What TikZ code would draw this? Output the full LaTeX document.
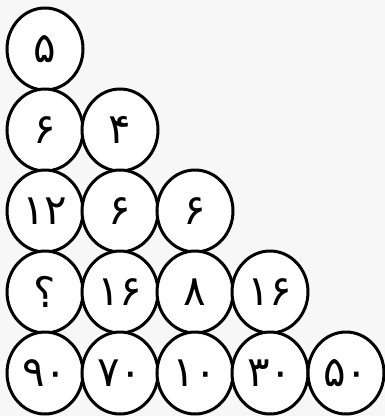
\documentclass[tikz,border=0pt]{standalone}
\usepackage{fontspec}
\usepackage{tikz}
\usepackage{xcolor}
\usetikzlibrary{positioning,shapes.geometric}
\newfontfamily\persianfont[Script=Arabic]{DejaVu Sans}
\definecolor{bggray}{RGB}{247,247,247}
\tikzset{numcircle/.style={draw, ellipse, line width=3pt, fill=white, minimum width=76pt, minimum height=82pt, inner sep=0pt, outer sep=0pt, font=\persianfont\fontsize{42}{50}\selectfont}}
\begin{document}
\begin{tikzpicture}[x=1pt, y=-1pt]
      \fill[bggray] (0,0) rectangle (385,416);
      \useasboundingbox (0,0) rectangle (385,416);
      \node[numcircle] (a1) at (45,49) {۵};
      \node[numcircle] (b1) at (45,130) {۶};
      \node[numcircle] (b2) at (120,130) {۴};
      \node[numcircle] (c1) at (45,211) {۱۲};
      \node[numcircle] (c2) at (120,211) {۶};
      \node[numcircle] (c3) at (195,211) {۶};
      \node[numcircle] (d1) at (45,292) {؟};
      \node[numcircle] (d2) at (120,292) {۱۶};
      \node[numcircle] (d3) at (195,292) {۸};
      \node[numcircle] (d4) at (270,292) {۱۶};
      \node[numcircle] (e1) at (45,373) {۹۰};
      \node[numcircle] (e2) at (120,373) {۷۰};
      \node[numcircle] (e3) at (195,373) {۱۰};
      \node[numcircle] (e4) at (270,373) {۳۰};
      \node[numcircle] (e5) at (346,373) {۵۰};
    \end{tikzpicture}
\end{document}
